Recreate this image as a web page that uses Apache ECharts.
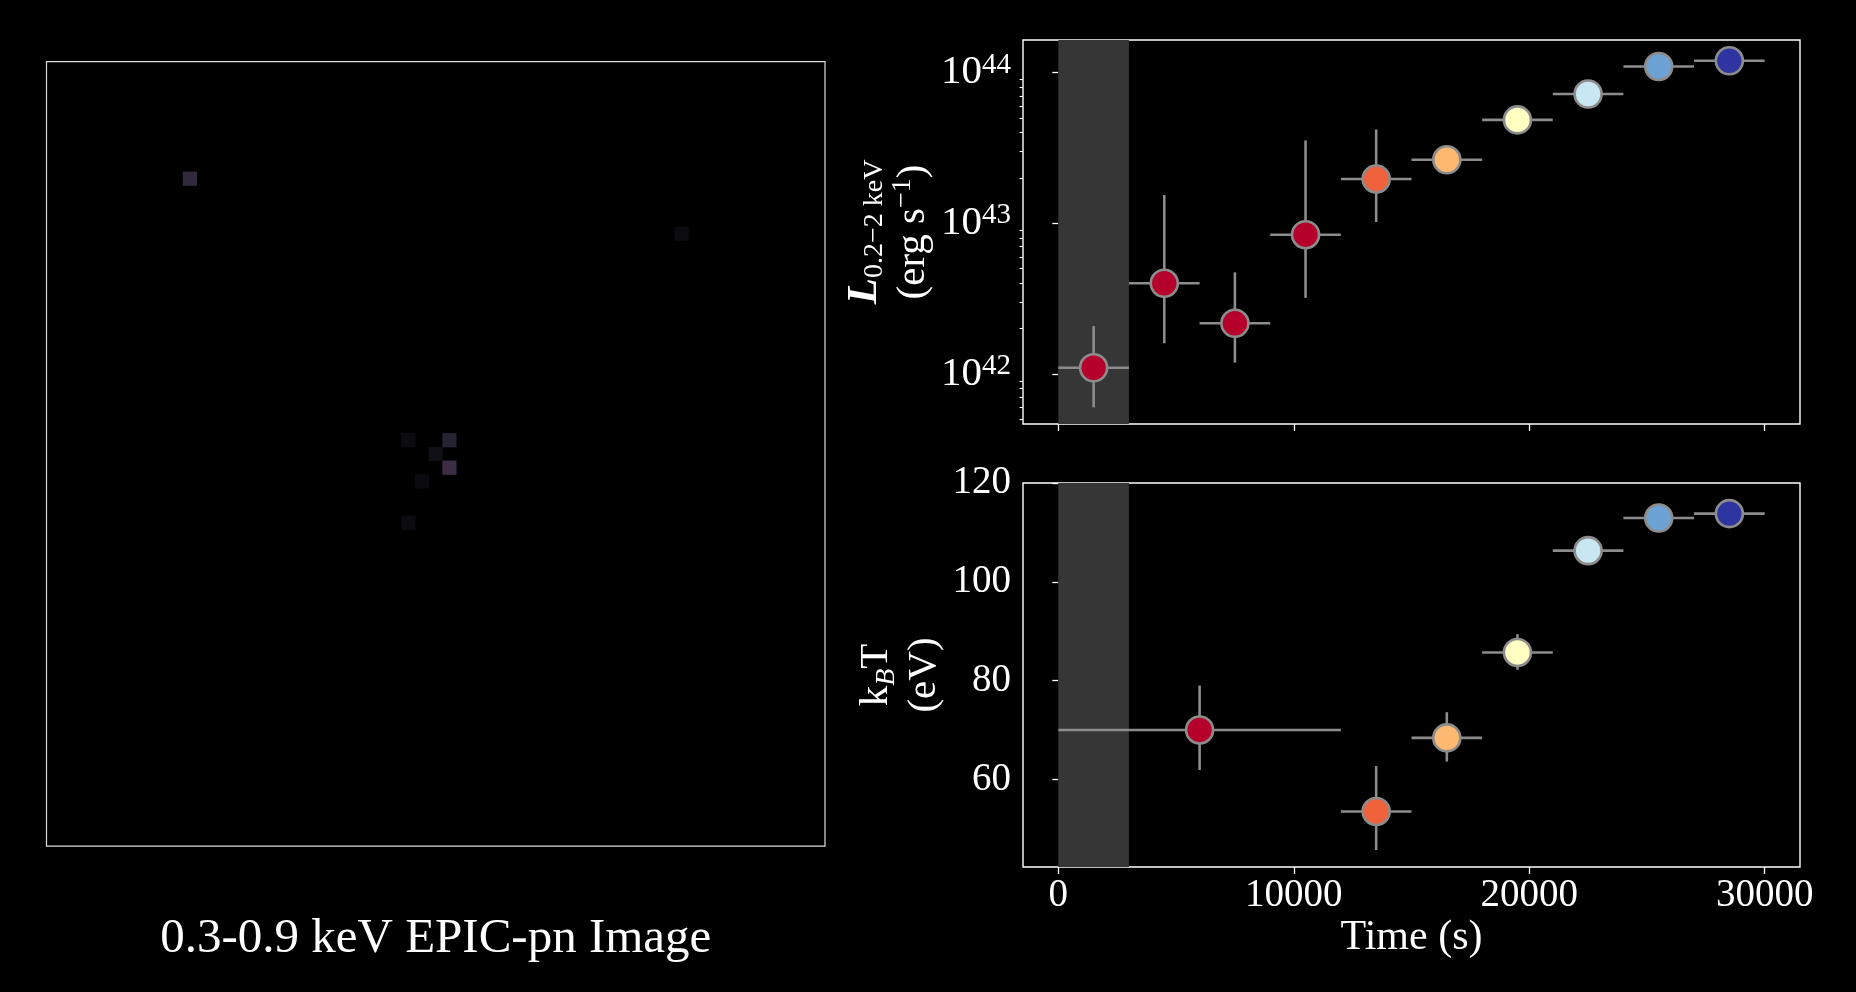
<!DOCTYPE html>
<html>
<head>
<meta charset="utf-8">
<script src="https://cdn.jsdelivr.net/npm/echarts@6.0.0/dist/echarts.min.js"></script>
<style>
    html, body { margin: 0; padding: 0; background: #000; }
    #chart { width: 1856px; height: 992px; }
</style>
</head>
<body>
<div id="chart"></div>
<script>
// 图像中可见的几个暗像素 (列, 行, 强度)
const pixCol = [10, 46, 26, 29, 28, 29, 27, 26];
const pixRow = [8, 12, 27, 27, 28, 29, 30, 33];
const pixVal = [0.72, 0.14, 0.14, 0.58, 0.22, 0.9, 0.12, 0.14];
const pixCount = 57;

// 光变曲线 L(0.2-2 keV)
const lumTime = [1500, 4500, 7500, 10500, 13500, 16500, 19500, 22500, 25500, 28500];
const lumHalf = [1500, 1500, 1500, 1500, 1500, 1500, 1500, 1500, 1500, 1500];
const lum = [1.1e42, 4.0e42, 2.17e42, 8.4e42, 1.97e43, 2.64e43, 4.86e43, 7.22e43, 1.1e44, 1.2e44];
const lumLow = [6.0e41, 1.6e42, 1.19e42, 3.2e42, 1.02e43, 2.5e43, 4.7e43, 7.0e43, 1.07e44, 1.17e44];
const lumHigh = [2.08e42, 1.54e43, 4.73e42, 3.55e43, 4.2e43, 2.8e43, 5.0e43, 7.45e43, 1.13e44, 1.23e44];
const lumColors = ['#b5002b', '#b5002b', '#b5002b', '#b5002b', '#f0623b', '#fdb970', '#ffffc2', '#c9e6f3', '#6ca3d4', '#2f35a0'];

// 温度 kT
const kTTime = [6000, 13500, 16500, 19500, 22500, 25500, 28500];
const kTHalf = [6000, 1500, 1500, 1500, 1500, 1500, 1500];
const kT = [70, 53.5, 68.4, 85.7, 106.3, 112.9, 113.8];
const kTLow = [61.9, 45.7, 63.6, 82.2, 105.3, 111.9, 112.8];
const kTHigh = [79, 62.7, 73.6, 89.4, 107.3, 113.9, 114.8];
const kTColors = ['#b5002b', '#f0623b', '#fdb970', '#ffffc2', '#c9e6f3', '#6ca3d4', '#2f35a0'];

const timeTicks = [0, 10000, 20000, 30000];
const lumTicks = [42, 43, 44];
const kTTicks = [60, 80, 100, 120];

const FONT = 'Liberation Serif';
const errColor = '#8c8c8c';

let lumMinor = [];
[41, 42, 43].forEach(p => {
    for (let m = 2; m <= 9; m++) lumMinor.push(Math.log10(m) + p);
});

let chart = echarts.init(document.getElementById('chart'));

function errorRender(params, api) {
    let lo = api.coord([api.value(2), api.value(1)]);
    let hi = api.coord([api.value(3), api.value(1)]);
    let b = api.coord([api.value(0), api.value(4)]);
    let t = api.coord([api.value(0), api.value(5)]);
    let style = { stroke: errColor, lineWidth: 2.6 };
    return {
        type: 'group',
        children: [
            { type: 'line', shape: { x1: lo[0], y1: lo[1], x2: hi[0], y2: hi[1] }, style: style },
            { type: 'line', shape: { x1: b[0], y1: b[1], x2: t[0], y2: t[1] }, style: style }
        ]
    };
}

let lumErr = lumTime.map((t, i) => [t, Math.log10(lum[i]), t - lumHalf[i], t + lumHalf[i], Math.log10(lumLow[i]), Math.log10(lumHigh[i])]);
let kTErr = kTTime.map((t, i) => [t, kT[i], t - kTHalf[i], t + kTHalf[i], kTLow[i], kTHigh[i]]);

let tickStyle = { color: '#fff', width: 1.3 };
let labelStyle = { color: '#fff', fontFamily: FONT, fontSize: 39 };

chart.setOption({
    backgroundColor: '#000',
    animation: false,
    grid: [
        { left: 46.5, top: 61.7, width: 778.5, height: 784.5, show: true, borderColor: '#dcdcdc', borderWidth: 1.2, backgroundColor: '#000' },
        { left: 1023, top: 40, width: 777, height: 384, show: true, borderColor: '#fff', borderWidth: 1.4 },
        { left: 1023, top: 483, width: 777, height: 384, show: true, borderColor: '#fff', borderWidth: 1.4 }
    ],
    visualMap: {
        show: false,
        seriesIndex: 0,
        min: 0,
        max: 1,
        inRange: { color: ['#050507', '#16141c', '#2e2838', '#44304f'] }
    },
    xAxis: [
        {
            type: 'category', gridIndex: 0,
            data: Array.from({ length: pixCount }, (_, i) => i),
            axisLine: { show: false }, axisTick: { show: false }, axisLabel: { show: false },
            splitLine: { show: false },
            name: '0.3-0.9 keV EPIC-pn Image', nameLocation: 'middle', nameGap: 68,
            nameTextStyle: { color: '#fff', fontFamily: FONT, fontSize: 49 }
        },
        {
            type: 'value', gridIndex: 1, min: -1500, max: 31500,
            axisLine: { show: false }, splitLine: { show: false },
            axisTick: { show: true, customValues: timeTicks, length: 7, lineStyle: tickStyle },
            axisLabel: { show: false }
        },
        {
            type: 'value', gridIndex: 2, min: -1500, max: 31500,
            axisLine: { show: false }, splitLine: { show: false },
            axisTick: { show: true, customValues: timeTicks, length: 7, lineStyle: tickStyle },
            axisLabel: Object.assign({ customValues: timeTicks, margin: 9, formatter: v => String(v) }, labelStyle),
            name: 'Time (s)', nameLocation: 'middle', nameGap: 50,
            nameTextStyle: { color: '#fff', fontFamily: FONT, fontSize: 42 }
        }
    ],
    yAxis: [
        {
            type: 'category', gridIndex: 0, inverse: true,
            data: Array.from({ length: pixCount }, (_, i) => i),
            axisLine: { show: false }, axisTick: { show: false }, axisLabel: { show: false },
            splitLine: { show: false }
        },
        {
            type: 'value', gridIndex: 1, min: 41.668, max: 44.217, position: 'left',
            axisLine: { show: false }, splitLine: { show: false },
            axisTick: { show: true, customValues: lumTicks, length: 6, lineStyle: tickStyle },
            axisLabel: {
                customValues: lumTicks, margin: 12,
                formatter: v => '{b|10}{e|' + Math.round(v) + '}',
                rich: {
                    b: { color: '#fff', fontFamily: FONT, fontSize: 41, lineHeight: 44 },
                    e: { color: '#fff', fontFamily: FONT, fontSize: 29, lineHeight: 29, verticalAlign: 'top' }
                }
            },
            name: '{it|L}{sub|0.2−2 keV}\n{n|(erg s}{sup|−1}{n|)}',
            nameLocation: 'middle', nameGap: 82,
            nameTextStyle: {
                color: '#fff', fontFamily: FONT, fontSize: 41, lineHeight: 48,
                rich: {
                    it: { color: '#fff', fontFamily: FONT, fontSize: 43, fontStyle: 'italic', fontWeight: 'bold', lineHeight: 48 },
                    sub: { color: '#fff', fontFamily: FONT, fontSize: 28, verticalAlign: 'bottom', lineHeight: 28 },
                    n: { color: '#fff', fontFamily: FONT, fontSize: 41, lineHeight: 48 },
                    sup: { color: '#fff', fontFamily: FONT, fontSize: 28, verticalAlign: 'top', lineHeight: 28 }
                }
            }
        },
        {
            // 对数坐标的次刻度
            type: 'value', gridIndex: 1, min: 41.668, max: 44.217, position: 'left',
            axisLine: { show: false }, splitLine: { show: false },
            axisTick: { show: true, customValues: lumMinor, length: 3.5, lineStyle: { color: '#fff', width: 1.1 } },
            axisLabel: { show: false }
        },
        {
            type: 'value', gridIndex: 2, min: 42.26, max: 120,
            axisLine: { show: false }, splitLine: { show: false },
            axisTick: { show: true, customValues: kTTicks, length: 6, lineStyle: tickStyle },
            axisLabel: Object.assign({ customValues: kTTicks, margin: 12, formatter: v => String(v) }, labelStyle),
            name: '{n|k}{sub|B}{n|T}\n{n|(eV)}',
            nameLocation: 'middle', nameGap: 62,
            nameTextStyle: {
                color: '#fff', fontFamily: FONT, fontSize: 41, lineHeight: 48,
                rich: {
                    n: { color: '#fff', fontFamily: FONT, fontSize: 41, lineHeight: 48 },
                    sub: { color: '#fff', fontFamily: FONT, fontSize: 28, fontStyle: 'italic', verticalAlign: 'bottom', lineHeight: 28 }
                }
            }
        }
    ],
    series: [
        {
            type: 'heatmap', xAxisIndex: 0, yAxisIndex: 0,
            data: pixCol.map((c, i) => [c, pixRow[i], pixVal[i]]),
            itemStyle: { borderWidth: 0 }
        },
        {
            type: 'custom', xAxisIndex: 1, yAxisIndex: 1,
            renderItem: errorRender, data: lumErr, z: 2,
            markArea: {
                silent: true,
                itemStyle: { color: '#363636' },
                data: [[{ xAxis: 0 }, { xAxis: 3000 }]]
            }
        },
        {
            type: 'scatter', xAxisIndex: 1, yAxisIndex: 1, z: 3,
            symbolSize: 27,
            data: lumTime.map((t, i) => ({ value: [t, Math.log10(lum[i])], itemStyle: { color: lumColors[i] } })),
            itemStyle: { borderColor: errColor, borderWidth: 2.6, opacity: 1 }
        },
        {
            type: 'custom', xAxisIndex: 2, yAxisIndex: 3,
            renderItem: errorRender, data: kTErr, z: 2,
            markArea: {
                silent: true,
                itemStyle: { color: '#363636' },
                data: [[{ xAxis: 0 }, { xAxis: 3000 }]]
            }
        },
        {
            type: 'scatter', xAxisIndex: 2, yAxisIndex: 3, z: 3,
            symbolSize: 27,
            data: kTTime.map((t, i) => ({ value: [t, kT[i]], itemStyle: { color: kTColors[i] } })),
            itemStyle: { borderColor: errColor, borderWidth: 2.6, opacity: 1 }
        }
    ]
});
</script>
</body>
</html>
